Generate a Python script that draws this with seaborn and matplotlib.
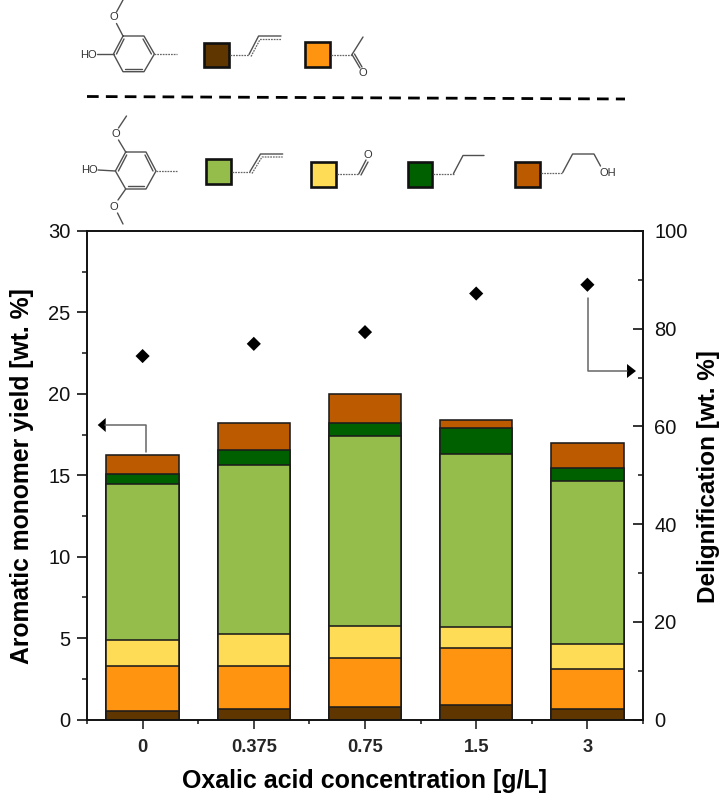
import numpy as np
import pandas as pd
import matplotlib
matplotlib.use("Agg")
import matplotlib.pyplot as plt
import seaborn as sns
from matplotlib.patches import Polygon, Rectangle
from matplotlib.ticker import MultipleLocator

concentrations = ["0", "0.375", "0.75", "1.5", "3"]
brown = [0.55, 0.65, 0.78, 0.91, 0.62]
orange = [2.75, 2.65, 2.98, 3.46, 2.48]
yellow = [1.57, 1.98, 1.99, 1.33, 1.54]
green = [9.59, 10.36, 11.63, 10.63, 10.03]
dark_green = [0.64, 0.88, 0.82, 1.55, 0.80]
rust = [1.15, 1.68, 1.80, 0.52, 1.53]
delignification = [74.4, 76.9, 79.3, 87.2, 89.0]

layers = [brown, orange, yellow, green, dark_green, rust]
colors = ["#5F3600", "#FF9410", "#FFDC55", "#95BD4B", "#006000", "#BC5A00"]

sns.set_theme(style="ticks")
plt.rcParams["font.family"] = ["Liberation Sans", "DejaVu Sans"]

fig = plt.figure(figsize=(7.2, 7.93), dpi=100)
ax = fig.add_axes([87 / 720, 73.5 / 793, 556 / 720, 488.5 / 793])

# stacked bars: tallest cumulative first so the lower ones sit on top
tops = np.cumsum(layers, axis=0)
for top, col in zip(tops[::-1], colors[::-1]):
    df = pd.DataFrame({"conc": concentrations, "top": top})
    sns.barplot(data=df, x="conc", y="top", color=col, saturation=1, width=0.65,
                edgecolor="#1c1c1c", linewidth=1.15, ax=ax)

ax.set_xlim(-0.5, 4.5)
ax.set_ylim(0, 30)
ax.yaxis.set_major_locator(MultipleLocator(5))
ax.yaxis.set_minor_locator(MultipleLocator(2.5))
ax.xaxis.set_minor_locator(MultipleLocator(0.5))
ax.tick_params(axis="y", which="major", length=7, width=1.2, labelsize=14.5, colors="#111111", pad=5)
ax.tick_params(axis="y", which="minor", length=3.6, width=1.2)
ax.tick_params(axis="x", which="major", length=6.3, width=1.2, pad=7.5)
ax.tick_params(axis="x", which="minor", length=3, width=1.2)
for lab in ax.get_xticklabels():
    lab.set_fontweight("bold")
    lab.set_fontsize(13.2)
ax.set_xlabel("Oxalic acid concentration [g/L]", fontsize=18, fontweight="bold", color="black", va="center")
ax.set_ylabel("Aromatic monomer yield [wt. %]", fontsize=17.8, fontweight="bold", color="black", va="center")
ax.xaxis.set_label_coords(0.5, -0.125)
ax.yaxis.set_label_coords(-0.117, 0.498)

ax2 = ax.twinx()
sns.scatterplot(x=concentrations, y=delignification, marker="D", color="black", s=52,
                edgecolor="none", ax=ax2, zorder=5)
ax2.set_ylim(0, 100)
ax2.set_xlim(-0.5, 4.5)
ax2.yaxis.set_major_locator(MultipleLocator(20))
ax2.yaxis.set_minor_locator(MultipleLocator(10))
ax2.tick_params(axis="y", which="major", direction="in", length=7, width=1.2, labelsize=14.5,
                colors="#111111", pad=8)
ax2.tick_params(axis="y", which="minor", direction="in", length=3.6, width=1.2)
ax2.set_ylabel("Delignification [wt. %]", fontsize=17.5, fontweight="bold", color="black", va="center")
ax2.yaxis.set_label_coords(1.118, 0.498)
for a in (ax, ax2):
    for s in a.spines.values():
        s.set_visible(True)
        s.set_color("#111111")
        s.set_linewidth(1.2)

# overlay in pixel coordinates for the structures and arrows
ov = fig.add_axes([0, 0, 1, 1], zorder=10)
ov.set_xlim(0, 720)
ov.set_ylim(793, 0)
ov.axis("off")
ov.patch.set_alpha(0)
BOND = "#505050"


def bond(*pts, ls="-", lw=1.0, c=BOND):
    xs, ys = zip(*pts)
    ov.plot(xs, ys, color=c, lw=lw, ls=ls, solid_capstyle="round")


def dotted(*pts):
    bond(*pts, ls=(0, (1.4, 0.8)), lw=0.9, c="#666666")


def atom(x, y, s):
    ov.text(x, y, s, fontsize=8, color="#333333", ha="center", va="center")


def square(x, y, col, w=24.5, h=24.5):
    ov.add_patch(Rectangle((x, y), w, h, facecolor=col, edgecolor="#111111", lw=1.9))


def ring(x0, x1, x2, x3, y0, y1, y2):
    pts = [(x1, y0), (x2, y0), (x3, y1), (x2, y2), (x1, y2), (x0, y1), (x1, y0)]
    bond(*pts)
    bond((x1 + 1, y0 + 3), (x0 + 3, y1))
    bond((x2 - 1, y0 + 3), (x3 - 3, y1))
    bond((x1 + 2, y2 - 3), (x2 - 2, y2 - 3))


# guaiacyl row
ring(113.5, 123, 144, 154.4, 36, 54, 71.7)
dotted((154.4, 54), (176.5, 54))
atom(88.6, 54.5, "HO")
bond((97, 54), (113.5, 54))
atom(113.5, 17.5, "O")
bond((123, 36), (116.5, 23.5))
bond((116.5, 12), (123, 0))

square(204.4, 42.5, colors[0])
dotted((230.4, 54.5), (249, 54.5))
bond((249, 54.5), (258.6, 36), (281, 36))
dotted((251, 56.5), (260, 39.5), (281, 39.5))

square(305, 42, colors[1])
dotted((331, 54.5), (352, 54.5))
bond((352, 54.5), (363, 37))
bond((352, 54.5), (360, 68))
bond((354.5, 54), (362, 67))
atom(363, 73.5, "O")

ov.plot([87, 625], [96.5, 99], color="black", lw=2.0, ls=(0, (4.2, 2.6)))

# syringyl row
ring(115.4, 125.7, 146, 156, 152, 171, 189)
dotted((156, 171), (177.7, 171))
atom(89.8, 170, "HO")
bond((98, 170), (115.4, 171))
atom(115.8, 134, "O")
bond((125.7, 152), (118.5, 140))
bond((118.5, 128), (126.5, 116))
atom(114, 206.5, "O")
bond((125.7, 189), (118, 200))
bond((117.5, 213), (123, 224))

square(206, 159, colors[3])
dotted((232, 171.5), (250, 171.5))
bond((250, 171.5), (260.5, 154), (282.7, 154))
dotted((252, 173.5), (262, 157), (282.7, 157))

square(311, 162, colors[2])
dotted((337.3, 174), (358.7, 174))
bond((358.7, 174), (366, 160))
bond((361, 175), (368, 162))
atom(368, 155.5, "O")

square(407.6, 162, colors[4])
dotted((433, 173.5), (453.5, 173.5))
bond((453.5, 173.5), (463, 155.5), (484, 155.5))

square(515, 162, colors[5])
dotted((541, 172.5), (562.7, 172.5))
bond((562.7, 172.5), (572.6, 154), (594, 154), (600.5, 166))
atom(608, 172.5, "OH")

# axis arrows
ov.plot([145.7, 145.7, 105], [451.5, 425, 425], color="#666666", lw=1.1)
ov.add_patch(Polygon([(97.7, 425), (105.7, 418), (105.7, 432)], closed=True, color="black", lw=0))
ov.plot([587.7, 587.7, 627], [297.7, 370.7, 370.7], color="#666666", lw=1.1)
ov.add_patch(Polygon([(636, 371), (627, 364), (627, 378)], closed=True, color="black", lw=0))

fig.savefig("out.png", dpi=100, facecolor="white")
